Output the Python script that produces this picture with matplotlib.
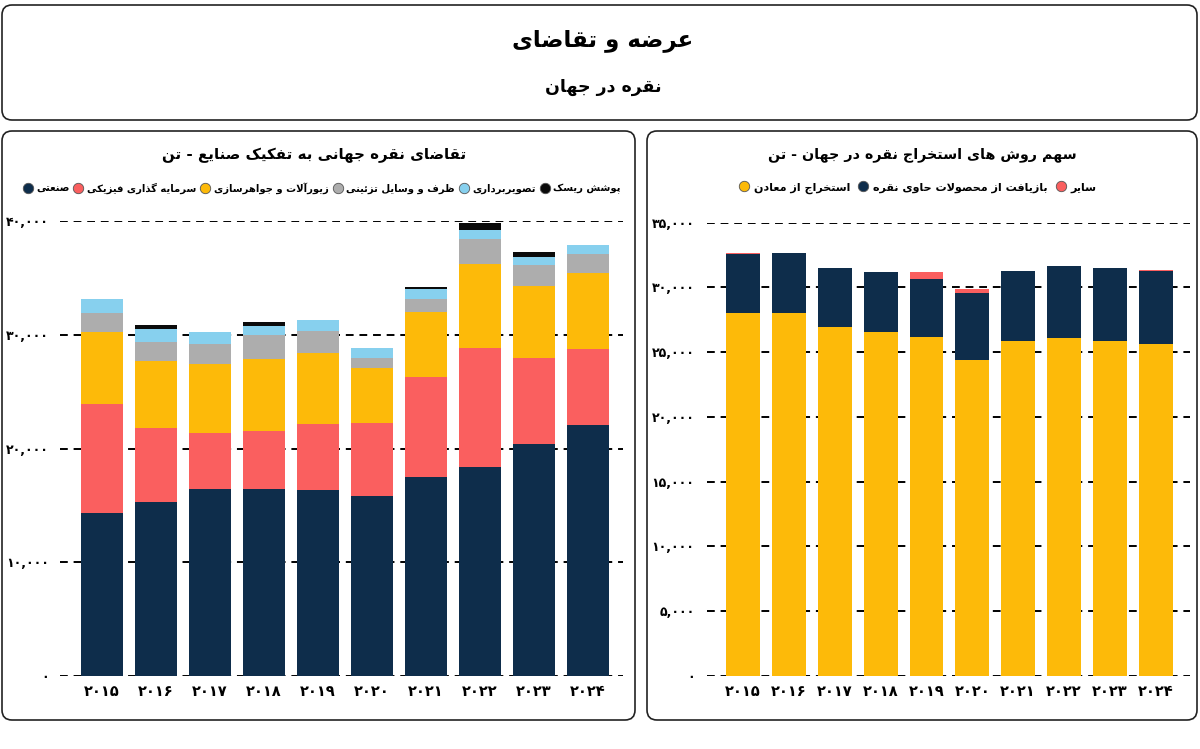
import numpy as np
import matplotlib
matplotlib.use('Agg')
import matplotlib.pyplot as plt
from matplotlib.patches import FancyBboxPatch
from matplotlib.lines import Line2D
from matplotlib import font_manager, ft2font

# data (tonnes)
years = [2015, 2016, 2017, 2018, 2019, 2020, 2021, 2022, 2023, 2024]

# demand by sector
industrial = [14300, 15320, 16410, 16410, 16350, 15820, 17490, 18370, 20400, 22070]
investment = [9580, 6510, 4920, 5130, 5800, 6420, 8820, 10470, 7530, 6720]
jewelry = [6390, 5860, 6070, 6300, 6250, 4810, 5690, 7380, 6360, 6610]
silverware = [1670, 1700, 1820, 2140, 1930, 880, 1170, 2170, 1800, 1700]
photography = [1230, 1090, 990, 790, 970, 910, 850, 820, 740, 820]
hedging = [0, 380, 60, 350, 0, 0, 180, 640, 410, 0]

# supply by source
mining = [28000, 28050, 26940, 26580, 26150, 24400, 25880, 26090, 25880, 25650]
recycling = [4560, 4580, 4580, 4610, 4500, 5140, 5410, 5540, 5600, 5620]
other = [120, 0, 0, 0, 540, 360, 0, 0, 0, 40]

demand_labels = ['صنعتی', 'سرمایه گذاری فیزیکی', 'زیورآلات و جواهرسازی',
                 'ظرف و وسایل تزئینی', 'تصویربرداری', 'پوشش ریسک']
supply_labels = ['استخراج از معادن', 'بازیافت از محصولات حاوی نقره', 'سایر']

NAVY, RED, YEL, GRAY, BLUE, BLACK = '#0e2d4b', '#fa5f5f', '#fdba09', '#adadad', '#87d0ee', '#0b0b0b'

# --- crude persian shaping (matplotlib has no bidi/shaping) ---
FORMS = {
    'آ': '\uFE81\uFE82', 'ئ': '\uFE89\uFE8A\uFE8B\uFE8C', 'ا': '\uFE8D\uFE8E',
    'ب': '\uFE8F\uFE90\uFE91\uFE92', 'پ': '\uFB56\uFB57\uFB58\uFB59',
    'ت': '\uFE95\uFE96\uFE97\uFE98', 'ث': '\uFE99\uFE9A\uFE9B\uFE9C',
    'ج': '\uFE9D\uFE9E\uFE9F\uFEA0', 'چ': '\uFB7A\uFB7B\uFB7C\uFB7D',
    'ح': '\uFEA1\uFEA2\uFEA3\uFEA4', 'خ': '\uFEA5\uFEA6\uFEA7\uFEA8',
    'د': '\uFEA9\uFEAA', 'ذ': '\uFEAB\uFEAC', 'ر': '\uFEAD\uFEAE',
    'ز': '\uFEAF\uFEB0', 'ژ': '\uFB8A\uFB8B',
    'س': '\uFEB1\uFEB2\uFEB3\uFEB4', 'ش': '\uFEB5\uFEB6\uFEB7\uFEB8',
    'ص': '\uFEB9\uFEBA\uFEBB\uFEBC', 'ض': '\uFEBD\uFEBE\uFEBF\uFEC0',
    'ط': '\uFEC1\uFEC2\uFEC3\uFEC4', 'ظ': '\uFEC5\uFEC6\uFEC7\uFEC8',
    'ع': '\uFEC9\uFECA\uFECB\uFECC', 'غ': '\uFECD\uFECE\uFECF\uFED0',
    'ف': '\uFED1\uFED2\uFED3\uFED4', 'ق': '\uFED5\uFED6\uFED7\uFED8',
    'ک': '\uFB8E\uFB8F\uFB90\uFB91', 'گ': '\uFB92\uFB93\uFB94\uFB95',
    'ل': '\uFEDD\uFEDE\uFEDF\uFEE0', 'م': '\uFEE1\uFEE2\uFEE3\uFEE4',
    'ن': '\uFEE5\uFEE6\uFEE7\uFEE8', 'و': '\uFEED\uFEEE',
    'ه': '\uFEE9\uFEEA\uFEEB\uFEEC', 'ی': '\uFBFC\uFBFD\uFBFE\uFBFF',
}
LAM_ALEF = {'ا': '\uFEFB\uFEFC', 'آ': '\uFEF5\uFEF6'}


def fa(s):
    res = []
    i = 0
    while i < len(s):
        c = s[i]
        if c not in FORMS:
            res.append(c)
            i += 1
            continue
        prev = s[i - 1] if i > 0 else ''
        p = prev in FORMS and len(FORMS[prev]) == 4
        if c == 'ل' and i + 1 < len(s) and s[i + 1] in LAM_ALEF:
            res.append(LAM_ALEF[s[i + 1]][1 if p else 0])
            i += 2
            continue
        nxt = s[i + 1] if i + 1 < len(s) else ''
        f = FORMS[c]
        q = len(f) == 4 and nxt in FORMS
        if p and q:
            res.append(f[3])
        elif p:
            res.append(f[1])
        elif q:
            res.append(f[2])
        else:
            res.append(f[0])
        i += 1
    return ''.join(reversed(res))


def fdig(v):
    return str(v).translate(str.maketrans('0123456789', '۰۱۲۳۴۵۶۷۸۹'))


plt.rcParams['font.family'] = ['DejaVu Sans']
path = font_manager.findfont(font_manager.FontProperties(family='DejaVu Sans', weight='bold'))
cmap = ft2font.FT2Font(path).get_charmap()
W = 'bold' if (0xFBFC in cmap and 0xFEB3 in cmap and 0x06F4 in cmap) else 'normal'

fig = plt.figure(figsize=(12, 7.49), dpi=100)
bg = fig.add_axes([0, 0, 1, 1], zorder=0)
bg.set_xlim(0, 1200)
bg.set_ylim(749, 0)
bg.axis('off')

for (x0, y0, w, h) in [(2, 5, 1195, 115), (2, 131, 633, 589), (647, 131, 550, 589)]:
    bg.add_patch(FancyBboxPatch((x0, y0), w, h, boxstyle='round,pad=0,rounding_size=10',
                                fc='white', ec='#222222', lw=1.2))

bg.text(603, 40, fa('عرضه و تقاضای'), ha='center', va='center', fontsize=16.5, weight=W)
bg.text(603, 87, fa('نقره در جهان'), ha='center', va='center', fontsize=12.5, weight=W)
bg.text(314, 155, fa('تقاضای نقره جهانی به تفکیک صنایع - تن'), ha='center', va='center',
        fontsize=10.8, weight=W)
bg.text(922, 155, fa('سهم روش های استخراج نقره در جهان - تن'), ha='center', va='center',
        fontsize=10.3, weight=W)


def chart(px, stacks, colors, ymax, step, width, xlim, ypad):
    l, r, t, b = px
    ax = fig.add_axes([l / 1200, 1 - b / 749, (r - l) / 1200, (b - t) / 749], zorder=1)
    ax.patch.set_alpha(0)
    x = np.arange(len(years))
    bottom = np.zeros(len(years))
    for vals, col in zip(stacks, colors):
        ax.bar(x, vals, width, bottom=bottom, color=col, zorder=2)
        bottom += np.array(vals)
    ticks = list(range(0, ymax + 1, step))
    ax.set_yticks(ticks)
    ax.set_yticklabels([fdig(f'{v:,}') for v in ticks], fontsize=9, weight=W)
    ax.set_xticks(x)
    ax.set_xticklabels([fdig(y) for y in years], fontsize=10.5, weight=W)
    ax.set_ylim(0, ymax)
    ax.set_xlim(*xlim)
    ax.grid(axis='y', color='black', ls=(0, (4, 3)), lw=1.4, zorder=0)
    ax.set_axisbelow(True)
    for s in ax.spines.values():
        s.set_visible(False)
    ax.tick_params(axis='y', length=0, pad=ypad)
    ax.tick_params(axis='x', length=0, pad=6)
    return ax


chart((60, 623, 221, 676),
      [industrial, investment, jewelry, silverware, photography, hedging],
      [NAVY, RED, YEL, GRAY, BLUE, BLACK], 40000, 10000, 0.78, (-0.78, 9.65), 8)
chart((707, 1190, 222.7, 675.7), [mining, recycling, other],
      [YEL, NAVY, RED], 35000, 5000, 0.74, (-0.79, 9.75), 9)


def legend(labels, colors, cx, size, colsp):
    hs = [Line2D([], [], marker='o', ls='', markersize=7.5, markerfacecolor=c,
                 markeredgecolor='#555555', markeredgewidth=0.6) for c in colors]
    fig.legend(hs, [fa(t) for t in labels], loc='center', bbox_to_anchor=(cx / 1200, 1 - 188 / 749),
               ncol=len(labels), frameon=False, handletextpad=0.45, columnspacing=colsp,
               handlelength=0.8, borderpad=0, prop={'weight': W, 'size': size})


legend(demand_labels, [NAVY, RED, YEL, GRAY, BLUE, BLACK], 322, 7.2, 0.5)
legend(supply_labels, [YEL, NAVY, RED], 918, 8, 0.8)

fig.savefig('out.png', dpi=100)
